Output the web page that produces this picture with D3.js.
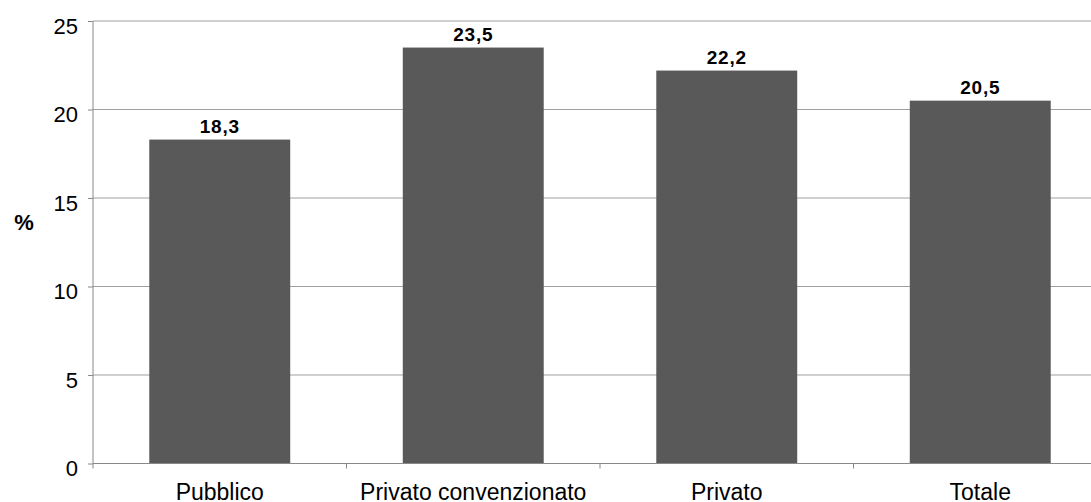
<!DOCTYPE html>
<html>
<head>
<meta charset="utf-8">
<script src="https://cdn.jsdelivr.net/npm/d3@7"></script>
<style>
  html, body { margin: 0; padding: 0; background: #fff; }
  svg { display: block; font-family: "Liberation Sans", Arial, sans-serif; }
</style>
</head>
<body>
<svg id="chart" width="1091" height="502"></svg>
<script>
const categories = ["Pubblico", "Privato convenzionato", "Privato", "Totale"];
const values = [18.3, 23.5, 22.2, 20.5];
const yTicks = [0, 5, 10, 15, 20, 25];

const svg = d3.select("#chart");
const plotLeft = 93, plotTop = 21, plotBottom = 463.5, step = 253.5;
const plotRight = plotLeft + step * categories.length;

const x = d3.scaleBand()
  .domain(categories)
  .range([plotLeft, plotRight])
  .paddingInner(0.444)
  .paddingOuter(0.222);

const y = d3.scaleLinear().domain([0, 25]).range([plotBottom, plotTop]);

// horizontal gridlines
svg.append("g")
  .selectAll("line")
  .data(yTicks.filter(d => d > 0))
  .join("line")
  .attr("x1", plotLeft).attr("x2", 1091)
  .attr("y1", d => y(d)).attr("y2", d => y(d))
  .attr("stroke", "#a0a0a0").attr("stroke-width", 1);

// bars
svg.append("g")
  .selectAll("rect")
  .data(values)
  .join("rect")
  .attr("x", (d, i) => x(categories[i]))
  .attr("y", d => y(d))
  .attr("width", x.bandwidth())
  .attr("height", d => plotBottom - y(d))
  .attr("fill", "#595959");

// value labels
svg.append("g")
  .selectAll("text")
  .data(values)
  .join("text")
  .attr("x", (d, i) => x(categories[i]) + x.bandwidth() / 2)
  .attr("y", d => y(d) - 7)
  .attr("text-anchor", "middle")
  .attr("font-size", 19)
  .attr("font-weight", "bold")
  .attr("letter-spacing", 0.8)
  .attr("fill", "#000")
  .text(d => d.toFixed(1).replace(".", ","));

// y axis
const yAxis = svg.append("g")
  .attr("transform", `translate(${plotLeft},0)`)
  .call(d3.axisLeft(y).tickValues(yTicks).tickSize(5).tickPadding(10).tickFormat(d => d));
yAxis.select(".domain").attr("stroke", "#888").attr("d", `M0,${plotTop}V${plotBottom}`);
yAxis.selectAll(".tick line").attr("stroke", "#888");
yAxis.selectAll(".tick text")
  .attr("font-size", 22)
  .attr("fill", "#000")
  .attr("dy", "0.55em");

// x axis
const xTickScale = d3.scaleLinear().domain([0, categories.length]).range([plotLeft, plotRight]);
const xAxis = svg.append("g").attr("transform", `translate(0,${plotBottom})`);
xAxis.append("line")
  .attr("x1", plotLeft).attr("x2", 1091)
  .attr("stroke", "#888");
xAxis.selectAll("line.tk")
  .data(d3.range(categories.length + 1))
  .join("line")
  .attr("class", "tk")
  .attr("x1", d => xTickScale(d)).attr("x2", d => xTickScale(d))
  .attr("y1", 0).attr("y2", 5)
  .attr("stroke", "#888");
xAxis.selectAll("text.lbl")
  .data(categories)
  .join("text")
  .attr("class", "lbl")
  .attr("x", d => x(d) + x.bandwidth() / 2)
  .attr("y", 36)
  .attr("text-anchor", "middle")
  .attr("font-size", 23)
  .attr("fill", "#000")
  .text(d => d);

// y axis title
svg.append("text")
  .attr("x", 24)
  .attr("y", 230)
  .attr("text-anchor", "middle")
  .attr("font-size", 22)
  .attr("font-weight", "bold")
  .text("%");
</script>
</body>
</html>
